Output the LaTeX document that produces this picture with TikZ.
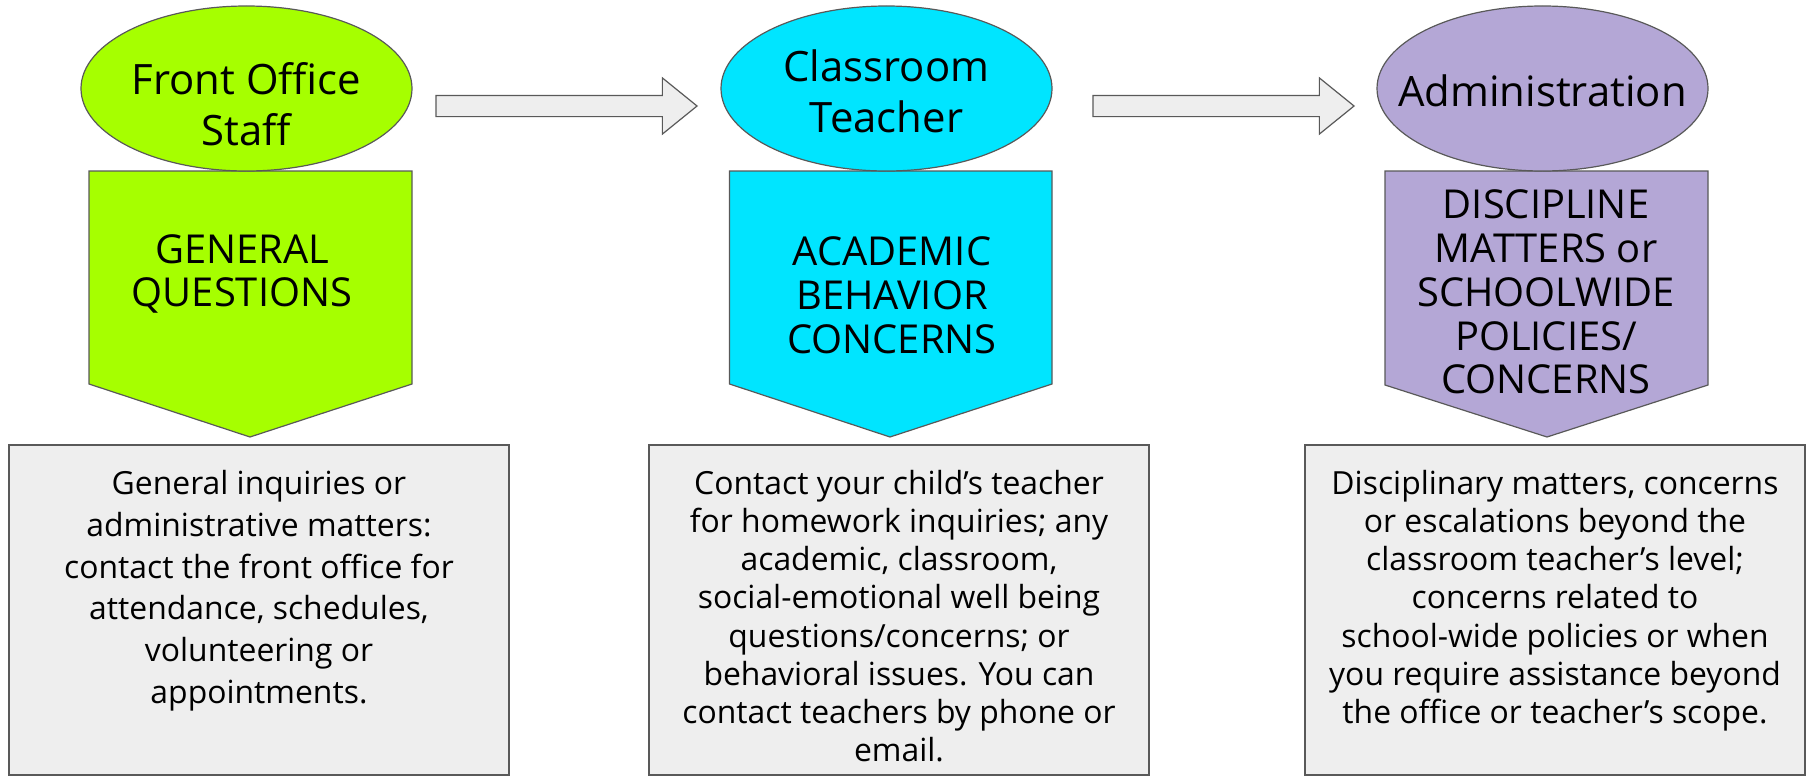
\documentclass[tikz,border=0pt]{standalone}
\usepackage{fontspec}
\setmainfont{Open Sans}
\usetikzlibrary{shapes.geometric,shapes.arrows}

\definecolor{limefill}{RGB}{166,255,0}
\definecolor{cyanfill}{RGB}{0,229,255}
\definecolor{lilacfill}{RGB}{180,167,214}
\definecolor{panelfill}{RGB}{238,238,238}
\definecolor{edgegray}{RGB}{89,89,89}

\begin{document}
\begin{tikzpicture}[x=1bp,y=-1bp,
	role/.style={ellipse, draw=edgegray, line width=1.2bp, minimum width=331bp, minimum height=165bp, inner sep=0pt},
	roletext/.style={align=center, font=\fontsize{42}{51}\selectfont, inner sep=0pt},
	tag/.style={draw=edgegray, line width=1.2bp},
	tagtext/.style={align=center, font=\fontsize{40}{44}\selectfont, inner sep=0pt},
	panel/.style={draw=edgegray, fill=panelfill, line width=1.2bp},
	paneltext/.style={align=center, font=\fontsize{32}{38.3}\selectfont, inner sep=0pt, anchor=north},
	flow/.style={single arrow, draw=edgegray, fill=panelfill, line width=1.2bp, minimum height=261bp, single arrow head extend=17.5bp, single arrow tip angle=78, inner xsep=0pt, inner ysep=10bp}]

	\useasboundingbox (0,0) rectangle (1810,776);

	\draw[tag, fill=limefill] (89,171) -- (412,171) -- (412,384) -- (250,437) -- (89,384) -- cycle;
	\draw[tag, fill=cyanfill] (729.5,171) -- (1052,171) -- (1052,384) -- (890,437) -- (729.5,384) -- cycle;
	\draw[tag, fill=lilacfill] (1385,171) -- (1708,171) -- (1708,385) -- (1547,437) -- (1385,385) -- cycle;

	\node[role, fill=limefill] (front) at (246.5,88.5) {};
	\node[role, fill=cyanfill] (teacher) at (886.5,88.5) {};
	\node[role, fill=lilacfill] (admin) at (1542.5,88.5) {};

	\node[roletext] (fronttxt) at (246.5,104) {Front Office\\Staff};
	\node[roletext] (teachertxt) at (886.5,91) {Classroom\\Teacher};
	\node[roletext] (admintxt) at (1542.5,91) {Administration};

	\node[flow] (fronttoteacher) at (560,106) {};
	\node[flow] (teachertoadmin) at (1217,106) {};

	\node[tagtext] (generaltag) at (242,274) {GENERAL\\QUESTIONS};
	\node[tagtext] (academictag) at (892,295) {ACADEMIC\\BEHAVIOR\\CONCERNS};
	\node[tagtext] (disciplinetag) at (1546,292) {DISCIPLINE\\MATTERS or\\SCHOOLWIDE\\POLICIES/\\CONCERNS};

	\draw[panel] (9,445) rectangle (509,775);
	\draw[panel] (649,445) rectangle (1149,775);
	\draw[panel] (1305,445) rectangle (1805,775);

	\node[paneltext, font=\fontsize{32}{42}\selectfont] (frontinfo) at (259,470) {General inquiries or\\administrative matters:\\contact the front office for\\attendance, schedules,\\volunteering or\\appointments.};
	\node[paneltext] (teacherinfo) at (899,470) {Contact your child’s teacher\\for homework inquiries; any\\academic, classroom,\\social-emotional well being\\questions/concerns; or\\behavioral issues. You can\\contact teachers by phone or\\email.};
	\node[paneltext] (admininfo) at (1555,470) {Disciplinary matters, concerns\\or escalations beyond the\\classroom teacher’s level;\\concerns related to\\school-wide policies or when\\you require assistance beyond\\the office or teacher’s scope.};

\end{tikzpicture}
\end{document}
